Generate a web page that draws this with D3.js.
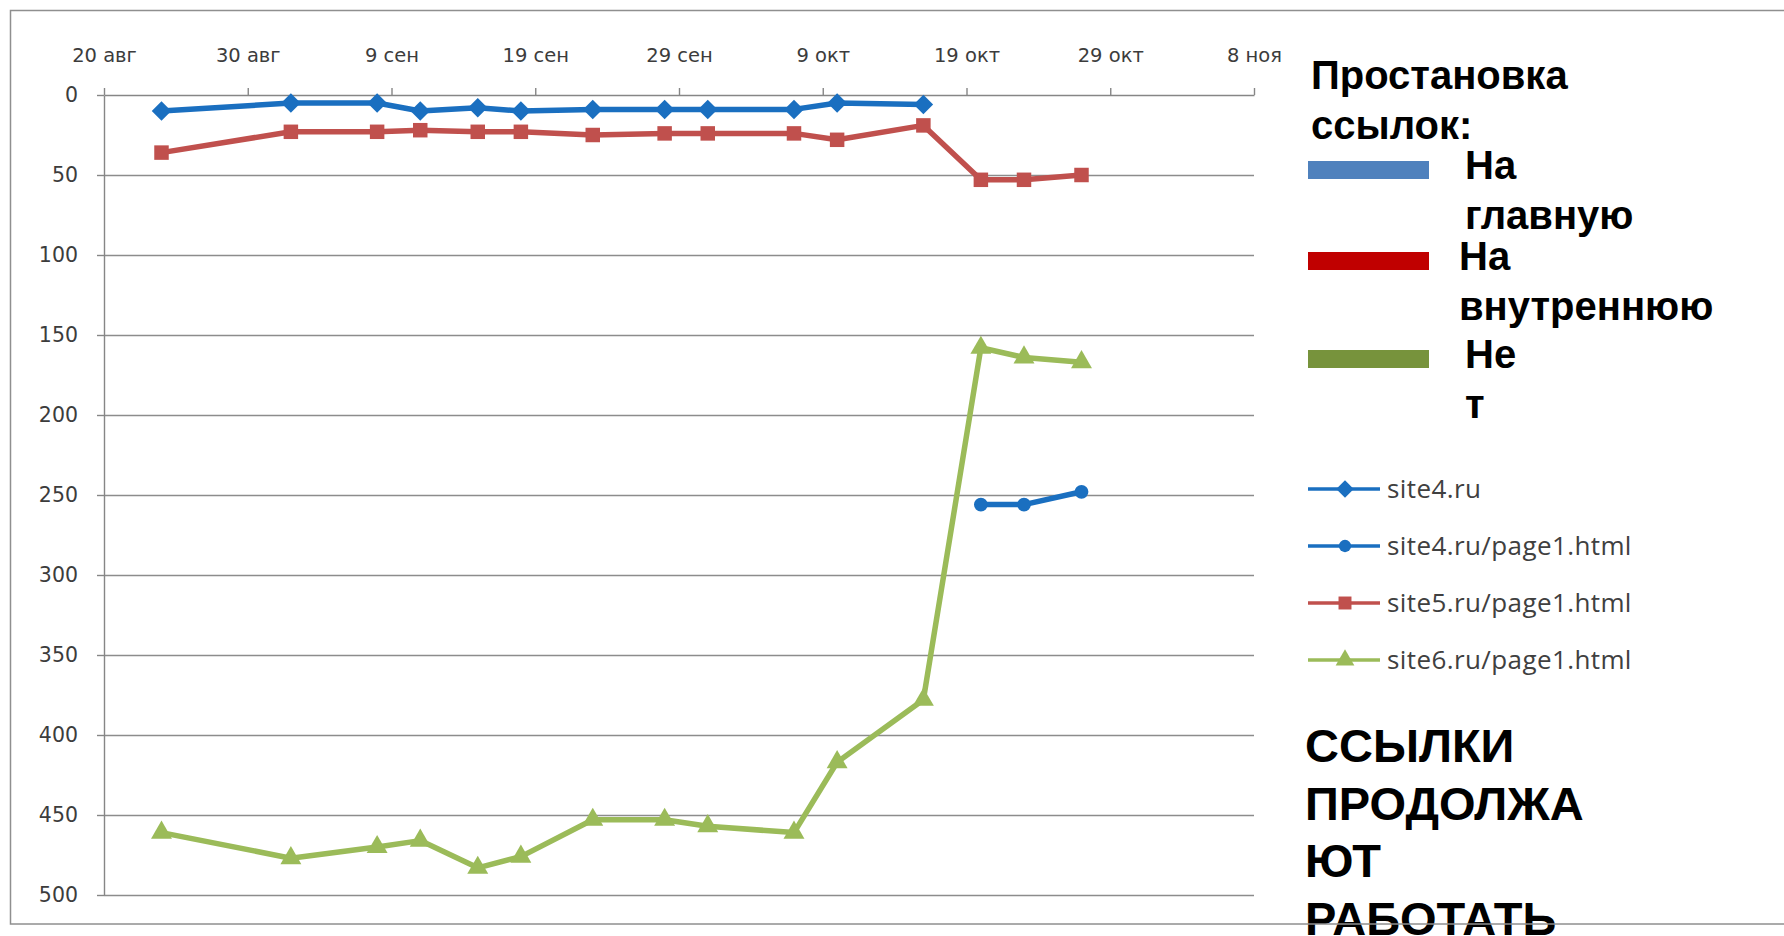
<!DOCTYPE html>
<html>
<head>
<meta charset="utf-8">
<script src="https://cdn.jsdelivr.net/npm/d3@7"></script>
<style>
  body { margin: 0; background: #fff; }
  .axis path, .axis line { stroke: #868686; stroke-width: 1.4; }
  .axis text { font-family: "DejaVu Sans", sans-serif; fill: #3c3c3c; }
  .grid line { stroke: #8c8c8c; stroke-width: 1.4; }
  .grid path { display: none; }
  .note { font-family: "Liberation Sans", Arial, sans-serif; font-weight: bold; fill: #000; }
  .legend-label { font-family: "Open Sans", sans-serif; fill: #404040; font-size: 26px; letter-spacing: 0.4px; }
</style>
</head>
<body>
<div class="chart-container"></div>
<script>
// dates of measurements (year is not shown on the chart)
const dates = ["2010-08-24","2010-09-02","2010-09-08","2010-09-11","2010-09-15","2010-09-18","2010-09-23",
               "2010-09-28","2010-10-01","2010-10-07","2010-10-10","2010-10-16","2010-10-20","2010-10-23","2010-10-27"];
// positions per site
const site4 = [10, 5, 5, 10, 8, 10, 9, 9, 9, 9, 5, 6];
const site4Page1 = [256, 256, 248];
const site5Page1 = [36, 23, 23, 22, 23, 23, 25, 24, 24, 24, 28, 19, 53, 53, 50];
const site6Page1 = [461, 477, 470, 466, 483, 476, 453, 453, 457, 461, 417, 378, 158, 164, 167];

const seriesNames = ["site4.ru", "site4.ru/page1.html", "site5.ru/page1.html", "site6.ru/page1.html"];
const tickDates = ["2010-08-20","2010-08-30","2010-09-09","2010-09-19","2010-09-29","2010-10-09","2010-10-19","2010-10-29","2010-11-08"];
const tickLabels = ["20 авг","30 авг","9 сен","19 сен","29 сен","9 окт","19 окт","29 окт","8 ноя"];
const yTicks = [0, 50, 100, 150, 200, 250, 300, 350, 400, 450, 500];

const legendTitle = ["Простановка", "ссылок:"];
const legendGroups = [["На", "главную"], ["На", "внутреннюю"], ["Не", "т"]];
const legendColors = ["#4f81bd", "#c00000", "#77933c"];
const noteLines = ["ССЫЛКИ", "ПРОДОЛЖА", "ЮТ", "РАБОТАТЬ"];

const parseDate = d3.timeParse("%Y-%m-%d");

// a rotated square reads closer to Excel's diamond than d3's narrow one
const diamond = {
    draw(ctx, size) {
        const r = Math.sqrt(size / 2);
        ctx.moveTo(0, -r); ctx.lineTo(r, 0); ctx.lineTo(0, r); ctx.lineTo(-r, 0); ctx.closePath();
    }
};

function buildSeries(){
    const toPoints = (vals, ds) => vals.map((v, i) => ({date: parseDate(ds[i]), value: v}));
    return [
        {name: seriesNames[0], color: "#1a6fc0", symbol: diamond, size: 190, points: toPoints(site4, dates.slice(0, 12))},
        {name: seriesNames[1], color: "#1a6fc0", symbol: d3.symbolCircle, size: 150, points: toPoints(site4Page1, dates.slice(12))},
        {name: seriesNames[2], color: "#c0504d", symbol: d3.symbolSquare, size: 210, points: toPoints(site5Page1, dates)},
        {name: seriesNames[3], color: "#9bbb59", symbol: d3.symbolTriangle, size: 190, points: toPoints(site6Page1, dates)}
    ];
}

function setupCanvas(series){
    const svg_width = 1784;
    const svg_height = 936;
    const chart = {left: 104, right: 1254, top: 95, bottom: 895};

    const svg = d3.select('.chart-container').append('svg')
        .attr('width', svg_width).attr('height', svg_height);
    svg.append('rect').attr('width', svg_width).attr('height', svg_height).attr('fill', '#fff');

    const xScale = d3.scaleTime()
        .domain([parseDate(tickDates[0]), parseDate(tickDates[tickDates.length - 1])])
        .range([chart.left, chart.right]);
    const yScale = d3.scaleLinear().domain([0, 500]).range([chart.top, chart.bottom]);

    // horizontal gridlines
    svg.append('g').attr('class', 'grid')
        .attr('transform', `translate(${chart.left},0)`)
        .call(d3.axisLeft(yScale).tickValues(yTicks.slice(1)).tickSize(-(chart.right - chart.left)).tickFormat(''));

    const xAxis = d3.axisTop(xScale)
        .tickValues(tickDates.map(parseDate))
        .tickFormat((d, i) => tickLabels[i])
        .tickSizeInner(7).tickSizeOuter(0).tickPadding(26);
    svg.append('g').attr('class', 'x axis')
        .attr('transform', `translate(0,${chart.top})`)
        .call(xAxis)
        .selectAll('text').style('font-size', '19.5px');

    const yAxis = d3.axisLeft(yScale)
        .tickValues(yTicks)
        .tickSizeInner(7).tickSizeOuter(0).tickPadding(19);
    svg.append('g').attr('class', 'y axis')
        .attr('transform', `translate(${chart.left},0)`)
        .call(yAxis)
        .selectAll('text').style('font-size', '20.5px');

    // lines + markers
    const line = d3.line().x(d => xScale(d.date)).y(d => yScale(d.value));
    series.forEach(s => {
        const g = svg.append('g').attr('class', 'series');
        g.append('path').datum(s.points)
            .attr('d', line)
            .attr('fill', 'none')
            .attr('stroke', s.color)
            .attr('stroke-width', 5.5)
            .attr('stroke-linejoin', 'round');
        g.selectAll('.marker').data(s.points).enter()
            .append('path').attr('class', 'marker')
            .attr('transform', d => `translate(${xScale(d.date)},${yScale(d.value)})`)
            .attr('d', d3.symbol().type(s.symbol).size(s.size))
            .attr('fill', s.color);
    });

    // series legend
    const legend = svg.append('g').attr('class', 'legend');
    series.forEach((s, i) => {
        const y = 489 + i * 57;
        const item = legend.append('g').attr('transform', `translate(1308,${y})`);
        item.append('line').attr('x1', 0).attr('x2', 72)
            .attr('stroke', s.color).attr('stroke-width', 3.5);
        item.append('path').attr('transform', 'translate(37,0)')
            .attr('d', d3.symbol().type(s.symbol).size(s.size * 0.8))
            .attr('fill', s.color);
        item.append('text').attr('class', 'legend-label')
            .attr('x', 79).attr('dy', '0.33em').text(s.name);
    });

    // hand-made legend of link placement
    const notes = svg.append('g');
    legendTitle.forEach((t, i) => {
        notes.append('text').attr('class', 'note').style('font-size', '40px')
            .attr('x', 1311).attr('y', 89 + i * 50).text(t);
    });
    const patchY = [161, 252, 350];
    const labelX = [1465, 1459, 1465];
    legendGroups.forEach((grp, i) => {
        notes.append('rect').attr('x', 1308).attr('y', patchY[i])
            .attr('width', 121).attr('height', 18).attr('fill', legendColors[i]);
        grp.forEach((t, j) => {
            notes.append('text').attr('class', 'note').style('font-size', '40px')
                .attr('x', labelX[i]).attr('y', patchY[i] + 18 + j * 50).text(t);
        });
    });
    noteLines.forEach((t, i) => {
        notes.append('text').attr('class', 'note').style('font-size', '47px')
            .attr('x', 1305).attr('y', 762 + i * 57.7).text(t);
    });

    // outer frame
    svg.append('rect').attr('x', 10.5).attr('y', 10.5)
        .attr('width', svg_width).attr('height', 913.5)
        .attr('fill', 'none').attr('stroke', '#8f8f8f').attr('stroke-width', 1.5);
}

setupCanvas(buildSeries());
</script>
</body>
</html>
